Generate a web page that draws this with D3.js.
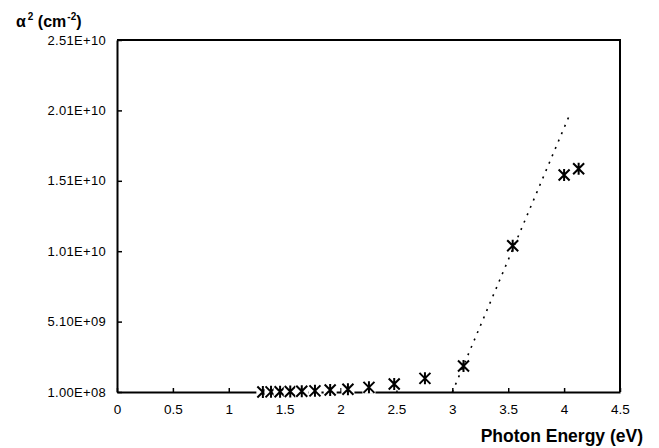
<!DOCTYPE html>
<html>
<head>
<meta charset="utf-8">
<script src="https://cdn.jsdelivr.net/npm/d3@7"></script>
<style>
  html, body { margin: 0; padding: 0; background: #fff; }
  svg { display: block; font-family: "Liberation Sans", Arial, sans-serif; }
</style>
</head>
<body>
<svg id="chart" width="659" height="448"></svg>
<script>
// ---- data ----
const photonEnergy = [1.305, 1.378, 1.459, 1.55, 1.653, 1.771, 1.907, 2.066, 2.254, 2.48, 2.755, 3.1, 3.54, 4.0, 4.13];
const alphaSquared = [1.0e8, 1.1e8, 1.2e8, 1.3e8, 1.5e8, 1.8e8, 2.4e8, 3.0e8, 4.3e8, 6.7e8, 1.07e9, 1.95e9, 1.049e10, 1.551e10, 1.596e10];
const trendEnergy = [3.0, 4.05];
const trendAlpha = [1.0e8, 1.98e10];
const xTickValues = [0, 0.5, 1, 1.5, 2, 2.5, 3, 3.5, 4, 4.5];
const xTickLabels = ["0", "0.5", "1", "1.5", "2", "2.5", "3", "3.5", "4", "4.5"];
const yTickValues = [1.0e8, 5.1e9, 1.01e10, 1.51e10, 2.01e10, 2.51e10];
const yTickLabels = ["1.00E+08", "5.10E+09", "1.01E+10", "1.51E+10", "2.01E+10", "2.51E+10"];

const svg = d3.select("#chart");
const L = 117, R = 620, T = 40, B = 392;

const x = d3.scaleLinear().domain([0, 4.5]).range([L, R]);
const y = d3.scaleLinear().domain([1.0e8, 2.51e10]).range([B, T]);

// plot area border (top and right)
svg.append("path")
  .attr("d", `M${L},${T} L${R},${T} L${R},${B}`)
  .attr("fill", "none").attr("stroke", "#000").attr("stroke-width", 2);

// y axis
const yAxis = d3.axisLeft(y)
  .tickValues(yTickValues)
  .tickFormat((d, i) => yTickLabels[i])
  .tickSizeInner(-5).tickSizeOuter(0).tickPadding(11);
const gy = svg.append("g").attr("transform", `translate(${L},0)`).call(yAxis);
gy.select(".domain").attr("stroke", "#000").attr("stroke-width", 2);
gy.selectAll(".tick line").attr("stroke", "#000").attr("stroke-width", 1.5);
gy.selectAll(".tick text").attr("font-size", "13px").attr("fill", "#000")
  .attr("letter-spacing", "0.3px")
  .attr("font-family", "'Liberation Sans', Arial, sans-serif");

// x axis
const xAxis = d3.axisBottom(x)
  .tickValues(xTickValues)
  .tickFormat((d, i) => xTickLabels[i])
  .tickSizeInner(-4).tickSizeOuter(0).tickPadding(18);
const gx = svg.append("g").attr("transform", `translate(0,${B})`).call(xAxis);
gx.select(".domain").attr("stroke", "#000").attr("stroke-width", 2);
gx.selectAll(".tick line").attr("stroke", "#000").attr("stroke-width", 1.5);
gx.selectAll(".tick text").attr("font-size", "13.5px").attr("fill", "#000")
  .attr("dy", "0.3em").attr("font-family", "'Liberation Sans', Arial, sans-serif");

// markers: white square background + star
const pts = photonEnergy.map((e, i) => [e, alphaSquared[i]]);
const r = 5.5;
const mk = svg.append("g").selectAll("g").data(pts).join("g")
  .attr("transform", d => `translate(${x(d[0])},${y(d[1])})`);
mk.append("rect").attr("x", -6.5).attr("y", -6.5).attr("width", 13).attr("height", 13).attr("fill", "#fff");
mk.append("path")
  .attr("d", `M${-r},${-r}L${r},${r}M${-r},${r}L${r},${-r}M0,${-r - 0.5}L0,${r + 0.5}`)
  .attr("stroke", "#000").attr("stroke-width", 2).attr("fill", "none");

// trendline (dotted)
const line = d3.line().x(d => x(d[0])).y(d => y(d[1]));
svg.append("path")
  .datum(trendEnergy.map((e, i) => [e, trendAlpha[i]]))
  .attr("d", line)
  .attr("fill", "none").attr("stroke", "#000").attr("stroke-width", 1.6)
  .attr("stroke-dasharray", "2,6");

// y title
const yt = svg.append("text").attr("x", 16).attr("y", 27)
  .attr("font-size", "16px").attr("font-weight", "bold").attr("fill", "#000");
yt.append("tspan").text("α");
yt.append("tspan").attr("font-size", "10px").attr("dy", -7).attr("dx", 2).text("2");
yt.append("tspan").attr("dy", 7).text(" (cm");
yt.append("tspan").attr("font-size", "10px").attr("dy", -7).attr("dx", 1).text("-2");
yt.append("tspan").attr("dy", 7).text(")");

// x title
svg.append("text").attr("x", 643).attr("y", 442).attr("text-anchor", "end")
  .attr("font-size", "17.5px").attr("font-weight", "bold").attr("fill", "#000")
  .text("Photon Energy (eV)");
</script>
</body>
</html>
